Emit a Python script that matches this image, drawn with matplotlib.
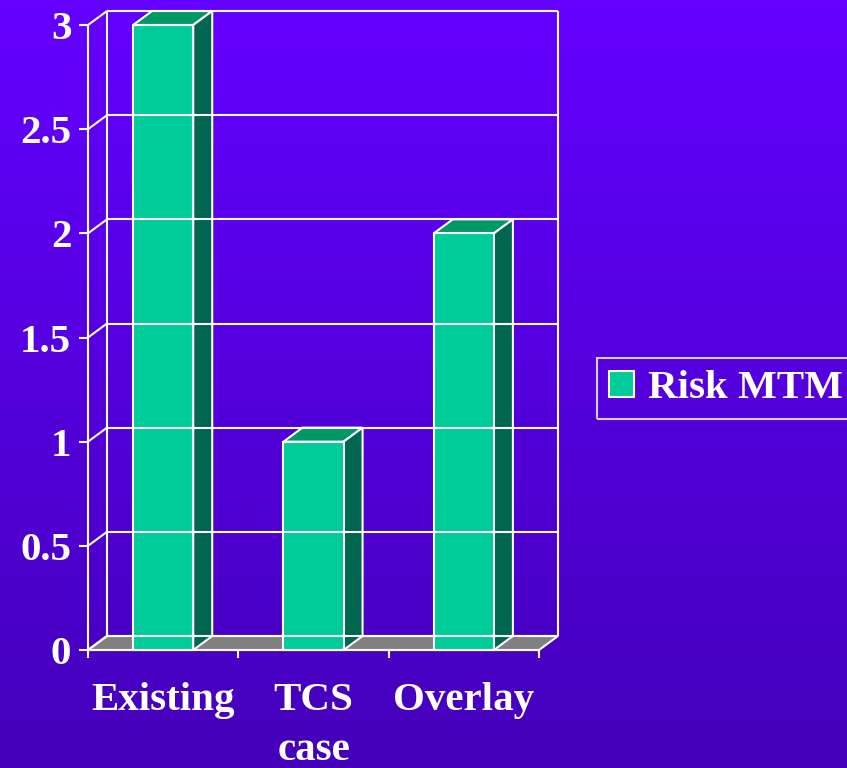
import numpy as np
import matplotlib
matplotlib.use("Agg")
import matplotlib.pyplot as plt
from matplotlib.patches import Rectangle, Polygon, Patch
from matplotlib.colors import LinearSegmentedColormap

categories = ["Existing", "TCS\ncase", "Overlay"]
risk_mtm = [3, 1, 2]
y_ticks = [0, 0.5, 1, 1.5, 2, 2.5, 3]
y_labels = ["0", "0.5", "1", "1.5", "2", "2.5", "3"]
series_name = "Risk MTM"

plt.rcParams['font.family'] = ['Liberation Serif', 'DejaVu Serif']
plt.rcParams['font.weight'] = 'bold'
FS = 29.5

fig = plt.figure(figsize=(8.47, 7.68), dpi=100)

# gradient background
bg = fig.add_axes([0, 0, 1, 1])
cmap = LinearSegmentedColormap.from_list("bg", ["#6400ff", "#4400ba"])
bg.imshow(np.linspace(0, 1, 256).reshape(-1, 1), cmap=cmap, aspect='auto',
          extent=[0, 1, 0, 1])
bg.axis('off')

ax = fig.add_axes([88 / 847, 118 / 768, 451 / 847, 625 / 768])
ax.set_xlim(-0.5, len(categories) - 0.5)
ax.set_ylim(0, 3)
ax.patch.set_visible(False)

# depth of the fake 3d box, in pixels -> data units
dx = 19 / (451 / len(categories))
dy = 14 / (625 / 3)
x_lo, x_hi = -0.5, len(categories) - 0.5
white = dict(color='white', lw=1.5, clip_on=False, solid_capstyle='butt')

# back wall + left wall
for v in y_ticks:
    ax.plot([x_lo + dx, x_hi + dx], [v + dy, v + dy], **white)
    ax.plot([x_lo, x_lo + dx], [v, v + dy], **white)
ax.plot([x_lo + dx, x_lo + dx], [dy, 3 + dy], **white)
ax.plot([x_hi + dx, x_hi + dx], [dy, 3 + dy], **white)

# floor
ax.add_patch(Polygon([(x_lo, 0), (x_hi, 0), (x_hi + dx, dy), (x_lo + dx, dy)],
                     closed=True, fc='#808080', ec='white', lw=1.5, clip_on=False))

# bars
w = 0.4
for i, v in enumerate(risk_mtm):
    x0, x1 = i - w / 2, i + w / 2
    ax.add_patch(Polygon([(x0, v), (x1, v), (x1 + dx, v + dy), (x0 + dx, v + dy)],
                         closed=True, fc='#009966', ec='white', lw=1.5, clip_on=False))
    ax.add_patch(Polygon([(x1, 0), (x1 + dx, dy), (x1 + dx, v + dy), (x1, v)],
                         closed=True, fc='#006650', ec='white', lw=1.5, clip_on=False))
    ax.add_patch(Rectangle((x0, 0), w, v, fc='#00cc99', ec='white', lw=1.5,
                           clip_on=False))

for s in ['top', 'right']:
    ax.spines[s].set_visible(False)
for s in ['left', 'bottom']:
    ax.spines[s].set_color('white')
    ax.spines[s].set_linewidth(1.5)

ax.set_yticks(y_ticks, y_labels)
ax.tick_params(axis='y', colors='white', length=6.5, width=1.5, pad=5.5, labelsize=FS)
ax.set_xticks(range(len(categories)), categories)
ax.set_xticks(np.arange(len(categories) + 1) - 0.5, minor=True)
ax.tick_params(axis='x', which='major', length=0, pad=23, colors='white', labelsize=FS)
ax.tick_params(axis='x', which='minor', length=6, width=1.5, color='white')
for lab in ax.get_xticklabels():
    lab.set_linespacing(1.47)

leg = ax.legend(handles=[Patch(fc='#00cc99', ec='white', lw=1.5, label=series_name)],
                loc='center left', bbox_to_anchor=(597 / 847, 1 - 388.5 / 768),
                bbox_transform=fig.transFigure, borderaxespad=0, fancybox=False,
                facecolor='none', edgecolor='white', framealpha=None,
                prop={'size': FS, 'weight': 'bold'}, labelcolor='white',
                handlelength=0.6, handleheight=0.6, handletextpad=0.35,
                borderpad=0.3)
leg.get_frame().set_linewidth(1.5)

fig.savefig("out.png", dpi=100)
